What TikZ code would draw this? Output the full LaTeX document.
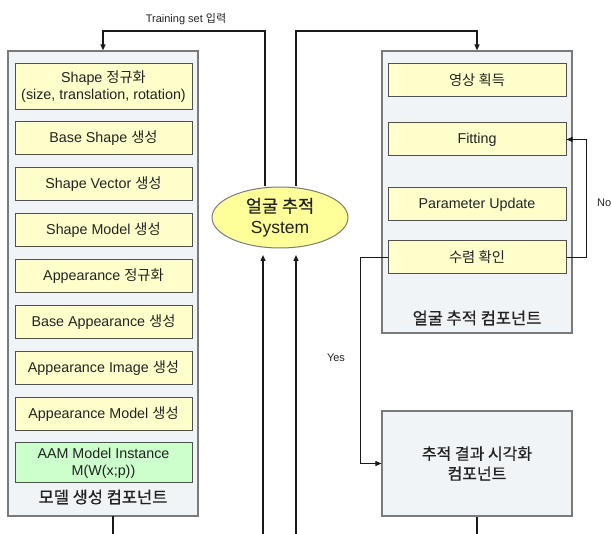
\documentclass[tikz,border=0pt]{standalone}
\usepackage{fontspec}
\setmainfont{Liberation Sans}
\newfontfamily\krfont{Noto Sans CJK KR}
\newfontfamily\krmed[FakeBold=0.5]{Noto Sans CJK KR}
\newcommand\kor[1]{{\krfont #1}}
\usetikzlibrary{arrows.meta,shapes.geometric}
\definecolor{contfill}{HTML}{F1F4F6}
\definecolor{contline}{HTML}{7A7A7A}
\definecolor{yfill}{HTML}{FFFFCC}
\definecolor{gfill}{HTML}{CCFFCC}
\definecolor{boxline}{HTML}{505050}
\definecolor{efill}{HTML}{FFFF99}
\definecolor{conncol}{HTML}{1A1A1A}
\definecolor{txt}{HTML}{222222}
\tikzset{
  container/.style={draw=contline, fill=contfill, line width=1.2pt, inner sep=0pt},
  ybox/.style={draw=boxline, fill=yfill, line width=1pt, inner sep=0pt, align=center, text=txt,
    minimum width=177pt, minimum height=33pt, font=\fontsize{14.3}{17}\selectfont},
  gbox/.style={ybox, fill=gfill},
  conn/.style={draw=conncol, line width=1.3pt},
  arr/.style={conn, -{Triangle[length=6pt,width=5pt]}},
  biglabel/.style={font=\fontsize{16.5}{20}\selectfont\krmed, text=txt},
  small/.style={font=\fontsize{11}{13}\selectfont, inner sep=0pt, text=txt}
}
\begin{document}
\begin{tikzpicture}[x=1pt,y=-1pt]
\useasboundingbox (0,0) rectangle (611,534);
% containers
\node[container, minimum width=190pt, minimum height=465pt] (L) at (103,283.5) {};
\node[container, minimum width=190pt, minimum height=282pt] (R) at (477,192) {};
\node[container, minimum width=190pt, minimum height=105pt, align=center, text=txt,
  font=\fontsize{16}{20}\selectfont\krmed] (B) at (477,463.5) {추적 결과 시각화\\컴포넌트};
% left boxes
\node[ybox, minimum height=46pt] (l1) at (103.5,87) {Shape \kor{정규화}\\(size, translation, rotation)};
\node[ybox] (l2) at (103.5,138.5) {Base Shape \kor{생성}};
\node[ybox] (l3) at (103.5,184.5) {Shape Vector \kor{생성}};
\node[ybox] (l4) at (103.5,230.5) {Shape Model \kor{생성}};
\node[ybox] (l5) at (103.5,276.5) {Appearance \kor{정규화}};
\node[ybox] (l6) at (103.5,322.5) {Base Appearance \kor{생성}};
\node[ybox] (l7) at (103.5,368.5) {Appearance Image \kor{생성}};
\node[ybox] (l8) at (103.5,414.5) {Appearance Model \kor{생성}};
\node[gbox, minimum height=40pt] (l9) at (103.5,463) {AAM Model Instance\\M(W(x;p))};
\node[biglabel] (lt) at (103,497) {모델 생성 컴포넌트};
% right boxes
\node[ybox, minimum width=178pt] (r1) at (477,80.5) {\kor{영상 획득}};
\node[ybox, minimum width=178pt] (r2) at (477,139.5) {Fitting};
\node[ybox, minimum width=178pt] (r3) at (477,204.5) {Parameter Update};
\node[ybox, minimum width=178pt] (r4) at (477,257.5) {\kor{수렴 확인}};
\node[biglabel] (rt) at (477,318) {얼굴 추적 컴포넌트};
% ellipse
\node[ellipse, draw=contline, fill=efill, line width=1pt, minimum width=136pt, minimum height=61pt,
  inner sep=0pt, align=center, text=txt, font=\fontsize{17.5}{21}\selectfont] (E) at (280,217.5)
  {{\krmed 얼굴 추적}\\System};
% coordinates
\coordinate (t1) at (265,31);
\coordinate (t2) at (296,31);
\coordinate (u1) at (263,255);
\coordinate (u2) at (296,255);
\coordinate (b1) at (263,534);
\coordinate (b2) at (296,534);
\coordinate (lb) at (113,516);
\coordinate (lbe) at (113,534);
\coordinate (bb) at (477,534);
% connectors
\draw[arr] (t1 |- E.north) -- (t1) -| (L.north);
\draw[arr] (t2 |- E.north) -- (t2) -| (R.north);
\draw[arr] (b1) -- (u1);
\draw[arr] (b2) -- (u2);
\draw[conn] (lb) -- (lbe);
\draw[conn] (B.south) -- (bb);
\draw[arr, line width=1pt] (r4.east) -- ++(20,0) |- (r2.east);
\draw[arr, line width=1pt] (r4.west) -- ++(-27,0) |- (B.west);
% labels
\node[small] (tl) at (186,19) {Training set \kor{입력}};
\node[small] (yl) at (336,358) {Yes};
\node[small, anchor=west] (nl) at (597,203) {No};
\end{tikzpicture}
\end{document}
